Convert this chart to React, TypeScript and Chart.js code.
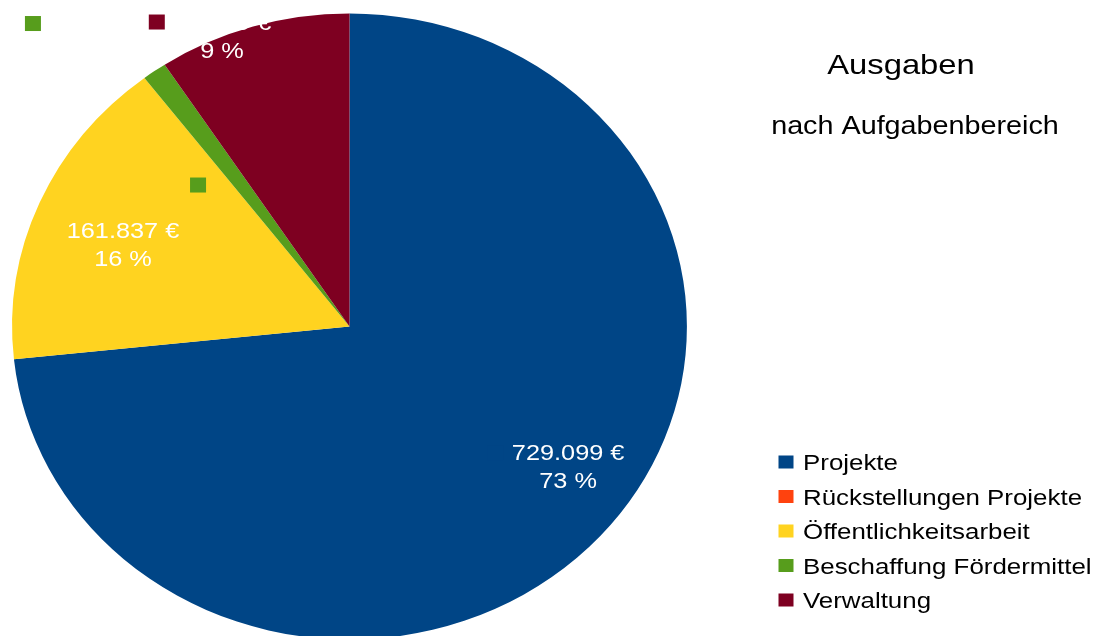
import React, { useEffect, useRef } from 'react';
import { Chart, registerables } from 'chart.js';

Chart.register(...registerables);

// ---- data ----
const CATEGORIES = [
  'Projekte',
  'Rückstellungen Projekte',
  'Öffentlichkeitsarbeit',
  'Beschaffung Fördermittel',
  'Verwaltung',
];
const VALUES = [729099, 0, 161837, 11640, 91739];
const COLORS = ['#004586', '#ff420e', '#ffd320', '#579d1c', '#7e0021'];
const TITLE = 'Ausgaben';
const SUBTITLE = 'nach Aufgabenbereich';

// ---- styling / placement (not data) ----
const FONT = '"Liberation Sans", Arial, sans-serif';
const PIE_RADIUS = 313;
const PIE_SX = 1.078; // pie is drawn as a horizontally stretched ellipse
const TEXT_SX = 1.15; // text is rendered slightly wide
// label anchor: angle in degrees clockwise from 12 o'clock, radius as fraction of pie radius
const LABEL_PLACEMENT: Array<null | { angle: number; r: number; extraKey?: { angle: number; r: number } }> = [
  { angle: 124.7, r: 0.788 },
  null,
  { angle: 291.4, r: 0.721 },
  { angle: 321.0, r: 1.188, extraKey: { angle: 315.2, r: 0.637 } },
  { angle: 337.85, r: 1.002 },
];

function fmtValue(v: number) {
  return String(v).replace(/\B(?=(\d{3})+(?!\d))/g, '.') + ' €';
}

function drawText(ctx: CanvasRenderingContext2D, text: string, x: number, y: number, align: CanvasTextAlign, font: string, color: string) {
  ctx.save();
  ctx.font = font;
  ctx.fillStyle = color;
  ctx.textAlign = align;
  ctx.textBaseline = 'alphabetic';
  ctx.translate(x, y);
  ctx.scale(TEXT_SX, 1);
  ctx.fillText(text, 0, 0);
  ctx.restore();
}

function textWidth(ctx: CanvasRenderingContext2D, text: string, font: string) {
  ctx.save();
  ctx.font = font;
  const w = ctx.measureText(text).width * TEXT_SX;
  ctx.restore();
  return w;
}

const piePlugin = {
  id: 'ellipsePie',
  beforeDatasetsDraw(chart: any) {
    const arc = chart.getDatasetMeta(0).data[0] as any;
    const ctx = chart.ctx as CanvasRenderingContext2D;
    ctx.save();
    ctx.translate(arc.x, arc.y);
    ctx.scale(PIE_SX, 1);
    ctx.translate(-arc.x, -arc.y);
  },
  afterDatasetsDraw(chart: any) {
    const ctx = chart.ctx as CanvasRenderingContext2D;
    ctx.restore();
    const meta = chart.getDatasetMeta(0);
    const data: number[] = chart.data.datasets[0].data;
    const total = data.reduce((a, b) => a + b, 0);
    const labelFont = `22px ${FONT}`;
    meta.data.forEach((arc: any, i: number) => {
      const place = LABEL_PLACEMENT[i];
      if (!place || data[i] === 0) return;
      const R = arc.outerRadius;
      const pos = (angle: number, r: number) => {
        const a = ((angle - 90) * Math.PI) / 180;
        return { x: arc.x + PIE_SX * r * R * Math.cos(a), y: arc.y + r * R * Math.sin(a) };
      };
      const p = pos(place.angle, place.r);
      const line1 = fmtValue(data[i]);
      const line2 = Math.round((data[i] / total) * 100) + ' %';
      const w1 = textWidth(ctx, line1, labelFont);
      // legend key square left of the label
      ctx.fillStyle = COLORS[i];
      ctx.fillRect(p.x - w1 / 2 - 24, p.y - 14 - 7.5, 16, 15);
      drawText(ctx, line1, p.x, p.y - 6.5, 'center', labelFont, '#ffffff');
      drawText(ctx, line2, p.x, p.y + 21.5, 'center', labelFont, '#ffffff');
      if (place.extraKey) {
        const q = pos(place.extraKey.angle, place.extraKey.r);
        ctx.fillStyle = COLORS[i];
        ctx.fillRect(q.x - 8, q.y - 7.5, 16, 15);
      }
    });
  },
  afterDraw(chart: any) {
    const ctx = chart.ctx as CanvasRenderingContext2D;
    drawText(ctx, TITLE, 901, 74, 'center', `28.5px ${FONT}`, '#000000');
    drawText(ctx, SUBTITLE, 915, 134, 'center', `25px ${FONT}`, '#000000');
    const legendFont = `22.5px ${FONT}`;
    CATEGORIES.forEach((c, i) => {
      const baseline = 470 + i * 34.5;
      ctx.fillStyle = COLORS[i];
      ctx.fillRect(778.5, baseline - 14.5, 15, 13);
      drawText(ctx, c, 803, baseline, 'left', legendFont, '#000000');
    });
  },
};

export default function App() {
  const ref = useRef<HTMLCanvasElement>(null);
  useEffect(() => {
    const chart = new Chart(ref.current as HTMLCanvasElement, {
      type: 'pie',
      data: {
        labels: CATEGORIES,
        datasets: [
          {
            data: VALUES,
            backgroundColor: COLORS,
            borderWidth: 0,
            hoverOffset: 0,
            radius: PIE_RADIUS,
            clip: false as any,
          },
        ],
      },
      options: {
        responsive: false,
        animation: false,
        events: [],
        layout: { padding: { left: 40, right: 439, top: 17, bottom: 0 } },
        plugins: {
          legend: { display: false },
          title: { display: false },
          tooltip: { enabled: false },
        },
      },
      plugins: [piePlugin as any],
    });
    return () => chart.destroy();
  }, []);
  return (
    <div style={{ position: 'fixed', left: 0, top: 0, width: 1098, height: 636, background: '#ffffff' }}>
      <canvas ref={ref} width={1098} height={636} style={{ display: 'block' }} />
    </div>
  );
}
